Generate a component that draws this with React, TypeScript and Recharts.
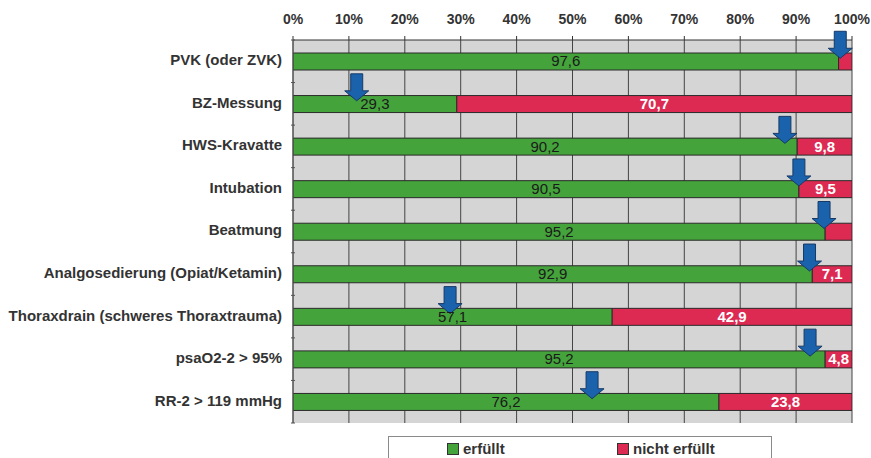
import React from 'react';
import { BarChart, Bar, XAxis, YAxis, CartesianGrid, LabelList, ReferenceDot } from 'recharts';

// Kategorien (von oben nach unten)
const categories = [
  'PVK (oder ZVK)',
  'BZ-Messung',
  'HWS-Kravatte',
  'Intubation',
  'Beatmung',
  'Analgosedierung (Opiat/Ketamin)',
  'Thoraxdrain (schweres Thoraxtrauma)',
  'psaO2-2 > 95%',
  'RR-2 > 119 mmHg',
];

// Anteile in Prozent
const erfuellt = [97.6, 29.3, 90.2, 90.5, 95.2, 92.9, 57.1, 95.2, 76.2];
const nichtErfuellt = [2.4, 70.7, 9.8, 9.5, 4.8, 7.1, 42.9, 4.8, 23.8];
// Wert im roten Segment beschriften?
const nichtLabelShown = [false, true, true, true, false, true, true, true, true];
// Position der blauen Pfeile (Prozent)
const arrowMarks = [97.9, 11.4, 88.0, 90.5, 95.0, 92.4, 28.1, 92.5, 53.5];

const xTicks = [0, 10, 20, 30, 40, 50, 60, 70, 80, 90, 100];

const GREEN = '#45a33c';
const RED = '#dc2a52';
const ARROW = '#1b62ad';
const FONT = '"Liberation Sans", Arial, sans-serif';

const data = categories.map((name, i) => ({
  name,
  erfuellt: erfuellt[i],
  nicht: nichtErfuellt[i],
  showNicht: nichtLabelShown[i],
}));

const fmt = (v: number) => v.toFixed(1).replace('.', ',');

const GreenLabel = (props: any) => {
  const { x, y, width, height, value } = props;
  return (
    <text
      x={x + width / 2}
      y={y + height / 2 + 1}
      textAnchor="middle"
      dominantBaseline="middle"
      fontFamily={FONT}
      fontSize={15}
      fill="#1a1a1a"
    >
      {fmt(value)}
    </text>
  );
};

const RedLabel = (props: any) => {
  const { x, y, width, height, value, index } = props;
  if (!nichtLabelShown[index]) return null;
  return (
    <text
      x={x + width / 2}
      y={y + height / 2 + 1}
      textAnchor="middle"
      dominantBaseline="middle"
      fontFamily={FONT}
      fontSize={15}
      fontWeight="bold"
      fill="#ffffff"
    >
      {fmt(value)}
    </text>
  );
};

const CategoryTick = (props: any) => {
  const { x, y, payload, index } = props;
  const half = payload && typeof payload.offset === 'number' && payload.offset > 0 ? payload.offset : 21.25;
  const axisX = x + 8;
  return (
    <g>
      <text
        x={axisX - 13}
        y={y}
        textAnchor="end"
        dominantBaseline="middle"
        fontFamily={FONT}
        fontSize={15}
        fontWeight="bold"
        fill="#333"
      >
        {payload.value}
      </text>
      <line x1={axisX - 4} x2={axisX} y1={y - half} y2={y - half} stroke="#555" />
      {index === categories.length - 1 && (
        <line x1={axisX - 4} x2={axisX} y1={y + half} y2={y + half} stroke="#555" />
      )}
    </g>
  );
};

const Arrow = (props: any) => {
  const { cx, cy } = props;
  if (cx == null || cy == null) return null;
  const top = cy - 30;
  const neck = cy - 13;
  const tip = cy - 3;
  const sw = 6;
  const hw = 12;
  const d = `M${cx - sw},${top} L${cx + sw},${top} L${cx + sw},${neck} L${cx + hw},${neck} L${cx},${tip} L${cx - hw},${neck} L${cx - sw},${neck} Z`;
  return <path d={d} fill={ARROW} stroke="#163a66" strokeWidth={1} />;
};

export default function App() {
  return (
    <div style={{ position: 'absolute', left: 0, top: 0, width: 871, height: 458, background: '#fff', overflow: 'hidden' }}>
      <BarChart
        width={871}
        height={458}
        data={data}
        layout="vertical"
        margin={{ top: 0, right: 19, bottom: 35, left: 0 }}
        barSize={17}
      >
        <CartesianGrid horizontal={false} vertical stroke="#444" fill="#d5d5d5" fillOpacity={1} />
        <XAxis
          type="number"
          orientation="top"
          height={40}
          domain={[0, 100]}
          ticks={xTicks}
          interval={0}
          tickFormatter={(v: number) => `${v}%`}
          tick={{ fontFamily: FONT, fontSize: 14, fontWeight: 'bold', fill: '#333' }}
          tickSize={4}
          tickMargin={12}
          axisLine={{ stroke: '#333' }}
          tickLine={{ stroke: '#333' }}
          allowDataOverflow
        />
        <YAxis
          type="category"
          dataKey="name"
          width={293}
          tick={<CategoryTick />}
          tickLine={false}
          tickMargin={0}
          axisLine={{ stroke: '#555' }}
          interval={0}
        />
        <Bar dataKey="erfuellt" stackId="a" fill={GREEN} stroke="#2a2a2a" strokeWidth={1} isAnimationActive={false}>
          <LabelList dataKey="erfuellt" content={<GreenLabel />} />
        </Bar>
        <Bar dataKey="nicht" stackId="a" fill={RED} stroke="#2a2a2a" strokeWidth={1} isAnimationActive={false}>
          <LabelList dataKey="nicht" content={<RedLabel />} />
        </Bar>
        {categories.map((c, i) => (
          <ReferenceDot key={c} x={arrowMarks[i]} y={c} r={0} shape={<Arrow />} ifOverflow="visible" />
        ))}
      </BarChart>
      <div
        style={{
          position: 'absolute',
          left: 388,
          top: 436,
          width: 382,
          height: 40,
          border: '1px solid #8a8a8a',
          background: '#fff',
          fontFamily: FONT,
          fontSize: 15,
          fontWeight: 'bold',
          color: '#333',
        }}
      >
        <div style={{ position: 'absolute', left: 58, top: 3, display: 'flex', alignItems: 'center' }}>
          <span style={{ display: 'inline-block', width: 10, height: 10, background: GREEN, border: '1px solid #333', marginRight: 4 }} />
          erfüllt
        </div>
        <div style={{ position: 'absolute', left: 228, top: 3, display: 'flex', alignItems: 'center' }}>
          <span style={{ display: 'inline-block', width: 10, height: 10, background: RED, border: '1px solid #333', marginRight: 4 }} />
          nicht erfüllt
        </div>
      </div>
    </div>
  );
}
